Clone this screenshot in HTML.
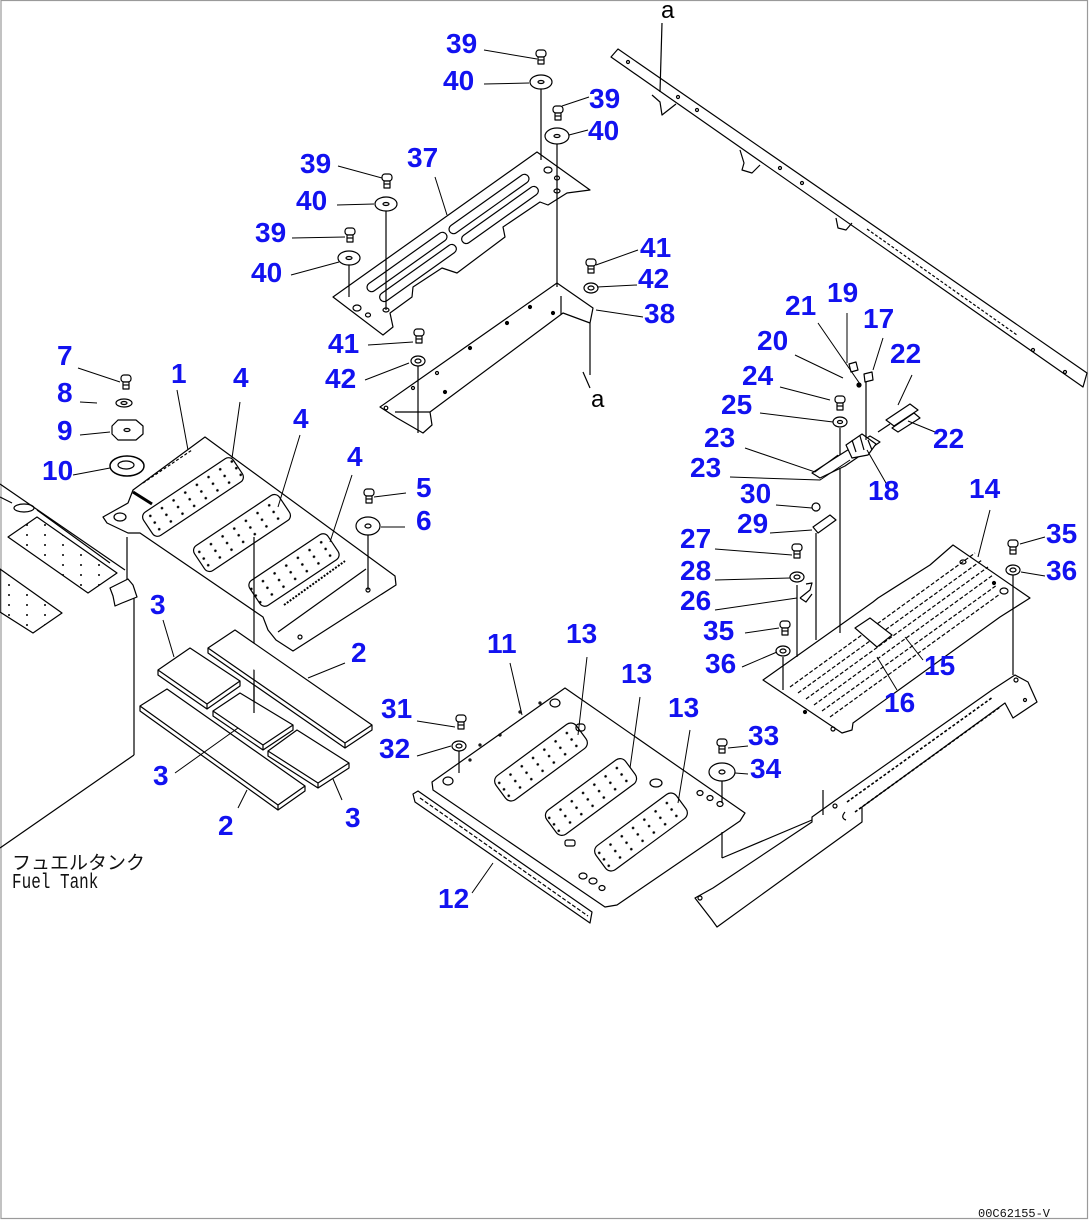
<!DOCTYPE html>
<html><head><meta charset="utf-8">
<style>
html,body{margin:0;padding:0;background:#fff;}
svg{display:block;}
.l{font-family:"Liberation Sans",sans-serif;font-weight:bold;font-size:28px;fill:#1212f0;}
.k{font-family:"Liberation Sans",sans-serif;font-size:24px;fill:#000;}
.ln{stroke:#000;stroke-width:1;fill:none;}
</style></head><body>
<svg width="1090" height="1220" viewBox="0 0 1090 1220" xmlns="http://www.w3.org/2000/svg">
<defs>
<pattern id="dots" width="14" height="8" patternUnits="userSpaceOnUse" x="3" y="-4">
<circle cx="7" cy="4" r="1.3" fill="#000"/>
</pattern>
<pattern id="dots2" width="18" height="10" patternUnits="userSpaceOnUse">
<circle cx="9" cy="5" r="1" fill="#000"/>
</pattern>
<g id="b"><rect x="-5" y="-6" width="10" height="7" rx="3" fill="#fff" stroke="#000" stroke-width="1.2"/><rect x="-3" y="1" width="6" height="7" fill="#fff" stroke="#000" stroke-width="1.2"/><line x1="-3" y1="4" x2="3" y2="4" stroke="#000"/></g>
<g id="n"><ellipse cx="0" cy="0" rx="7" ry="5" fill="#fff" stroke="#000" stroke-width="1.2"/><ellipse cx="0" cy="0" rx="3" ry="2" fill="none" stroke="#000"/></g>
</defs>
<rect x="1" y="0.5" width="1086.5" height="1218" fill="none" stroke="#9a9a9a" stroke-width="1.2"/>
<g fill="none" stroke="#000" stroke-width="1.2" stroke-linejoin="round">
<polygon points="611,57 618,49 1087,373 1083,387"/>
<line x1="867" y1="229" x2="1017" y2="335" stroke-dasharray="3,2"/>
<path d="M652,95 L660,102 L662,115 L676,104"/>
<path d="M740,150 L744,163 L742,170 L752,173 L760,165"/>
<path d="M836,218 L838,228 L846,230 L852,223"/>
<circle cx="628" cy="62" r="1.5"/><circle cx="678" cy="97" r="1.5"/><circle cx="697" cy="110" r="1.5"/><circle cx="780" cy="168" r="1.5"/><circle cx="802" cy="183" r="1.5"/><circle cx="1033" cy="350" r="1.5"/><circle cx="1065" cy="372" r="1.5"/>
<line x1="662" y1="23" x2="660" y2="92"/>
<polygon points="333,297 537,152 590,190 567,193 548,205 540,202 503,227 505,237 457,273 442,268 413,287 412,297 390,313 393,327 383,335"/>
<g transform="translate(489,204) rotate(-35.4)"><rect x="-48" y="-4.5" width="96" height="9" rx="4.5"/></g>
<g transform="translate(500,215) rotate(-35.4)"><rect x="-46" y="-4.5" width="92" height="9" rx="4.5"/></g>
<g transform="translate(407,262) rotate(-35.4)"><rect x="-48" y="-4.5" width="96" height="9" rx="4.5"/></g>
<g transform="translate(418,273) rotate(-35.4)"><rect x="-46" y="-4.5" width="92" height="9" rx="4.5"/></g>
<ellipse cx="357" cy="308" rx="4" ry="3"/><ellipse cx="368" cy="315" rx="2.5" ry="2"/><ellipse cx="386" cy="310" rx="3" ry="2"/><ellipse cx="548" cy="170" rx="4" ry="3"/><ellipse cx="557" cy="178" rx="2.5" ry="2"/><ellipse cx="557" cy="191" rx="3" ry="2"/>
<polygon points="380,407 557,283 593,308 590,323 563,313 430,412 432,425 423,433 397,418"/>
<line x1="561" y1="296" x2="561" y2="314"/>
<line x1="395" y1="412" x2="430" y2="412"/>
<circle cx="530" cy="307" r="1.5" fill="#000"/><circle cx="507" cy="323" r="1.5" fill="#000"/><circle cx="470" cy="348" r="1.5" fill="#000"/><circle cx="437" cy="373" r="1.5"/><circle cx="445" cy="392" r="1.5" fill="#000"/><circle cx="413" cy="388" r="1.5"/><circle cx="386" cy="408" r="1.8"/><circle cx="553" cy="313" r="1.5" fill="#000"/>
<line x1="590" y1="323" x2="590" y2="375"/>
<line x1="583" y1="372" x2="590" y2="388"/>
<line x1="541" y1="88" x2="541" y2="160"/>
<line x1="557" y1="143" x2="557" y2="287"/>
<line x1="386" y1="210" x2="386" y2="310"/>
<line x1="349" y1="263" x2="349" y2="297"/>
<line x1="418" y1="365" x2="418" y2="433"/>
<use href="#b" x="541" y="56"/>
<ellipse cx="541" cy="82" rx="11" ry="7" fill="#fff"/><ellipse cx="541" cy="82" rx="3" ry="1.5"/>
<use href="#b" x="558" y="112"/>
<ellipse cx="557" cy="136" rx="12" ry="8" fill="#fff"/><ellipse cx="557" cy="136" rx="3" ry="1.5"/>
<use href="#b" x="387" y="180"/>
<ellipse cx="386" cy="204" rx="11" ry="7" fill="#fff"/><ellipse cx="386" cy="204" rx="3" ry="1.5"/>
<use href="#b" x="350" y="234"/>
<ellipse cx="349" cy="258" rx="11" ry="7" fill="#fff"/><ellipse cx="349" cy="258" rx="3" ry="1.5"/>
<use href="#b" x="591" y="265"/>
<use href="#n" x="591" y="288"/>
<use href="#b" x="419" y="335"/>
<use href="#n" x="418" y="361"/>
<line x1="0" y1="484" x2="125" y2="570"/>
<path d="M0,497 L12,503 M37,510 L110,563"/>
<ellipse cx="24" cy="508" rx="10" ry="4"/>
<polygon points="8,537 37,517 117,573 88,593" fill="url(#dots2)"/>
<polygon points="0,569 62,613 33,633 0,612" fill="url(#dots2)"/>
<line x1="134" y1="593" x2="134" y2="755"/>
<line x1="134" y1="755" x2="0" y2="848"/>
<line x1="127" y1="537" x2="127" y2="593"/>
<path d="M110,588 L128,579 L133,585 L137,597 L122,603 L115,606 L113,596 Z" fill="#fff"/>
<polygon points="133,490 205,437 395,576 396,585 293,651 276,640 268,630 263,617 140,533 128,533 107,523 103,517 128,503"/>
<line x1="133" y1="492" x2="152" y2="504" stroke-width="3"/>
<line x1="143" y1="483" x2="192" y2="450" stroke-dasharray="3,2"/>
<line x1="278" y1="632" x2="366" y2="569"/>
<ellipse cx="120" cy="517" rx="6" ry="4"/>
<g transform="translate(193,497) rotate(-33.7)"><rect x="-54" y="-14" width="108" height="28" rx="6" fill="url(#dots)"/></g>
<g transform="translate(242,533) rotate(-33.7)"><rect x="-51" y="-15" width="102" height="30" rx="6" fill="url(#dots)"/></g>
<g transform="translate(294,570) rotate(-33.7)"><rect x="-47" y="-15" width="94" height="30" rx="6" fill="url(#dots)"/></g>
<line x1="284" y1="605" x2="345" y2="561" stroke-dasharray="2,1.5" stroke-width="2"/>
<circle cx="300" cy="637" r="2"/><circle cx="368" cy="590" r="2"/>
<line x1="254" y1="537" x2="254" y2="713"/>
<line x1="368" y1="535" x2="368" y2="590"/>
<use href="#b" x="126" y="381"/>
<ellipse cx="124" cy="403" rx="8" ry="4" fill="#fff"/><ellipse cx="124" cy="403" rx="3" ry="1.5"/>
<polygon points="112,426 118,420 136,420 143,426 143,434 136,440 118,440 112,434" fill="#fff"/>
<ellipse cx="127" cy="430" rx="3" ry="1.5"/>
<ellipse cx="127" cy="466" rx="17" ry="10" fill="#fff" stroke-width="1.5"/><ellipse cx="126" cy="465" rx="8" ry="4"/>
<use href="#b" x="369" y="495"/>
<ellipse cx="368" cy="526" rx="12" ry="9" fill="#fff"/><ellipse cx="368" cy="526" rx="3" ry="2"/>
<g fill="#fff">
<path d="M140,706 L167,689 L305,786 L278,805 Z M140,706 L140,711 L278,810 L305,791 L305,786 M278,805 L278,810"/>
<path d="M208,648 L235,630 L372,725 L345,743 Z M208,648 L208,653 L345,748 L372,730 L372,725 M345,743 L345,748"/>
<path d="M158,670 L190,648 L240,681 L207,704 Z M158,670 L158,675 L207,709 L240,686 L240,681 M207,704 L207,709"/>
<path d="M213,711 L240,693 L293,725 L263,745 Z M213,711 L213,716 L263,750 L293,730 L293,725 M263,745 L263,750"/>
<path d="M268,751 L297,730 L349,763 L318,783 Z M268,751 L268,756 L318,788 L349,768 L349,763 M318,783 L318,788"/>
</g>
<line x1="254" y1="680" x2="254" y2="713"/>
<polygon points="432,782 565,688 745,813 740,821 617,905 605,907 433,790"/>
<g transform="translate(541,762) rotate(-36.4)"><rect x="-50" y="-15" width="100" height="30" rx="7" fill="url(#dots)"/></g>
<g transform="translate(591,797) rotate(-36.4)"><rect x="-49" y="-15" width="98" height="30" rx="7" fill="url(#dots)"/></g>
<g transform="translate(641,832) rotate(-36.4)"><rect x="-50" y="-15" width="100" height="30" rx="7" fill="url(#dots)"/></g>
<ellipse cx="555" cy="703" rx="5" ry="4"/><ellipse cx="448" cy="781" rx="5" ry="4"/>
<rect x="576" y="724" width="9" height="7" rx="3"/><ellipse cx="656" cy="783" rx="6" ry="4"/>
<ellipse cx="700" cy="793" rx="3" ry="2.5"/><ellipse cx="710" cy="798" rx="3" ry="2.5"/><ellipse cx="720" cy="804" rx="3" ry="2.5"/>
<rect x="565" y="840" width="10" height="6" rx="2"/>
<ellipse cx="583" cy="876" rx="4" ry="3"/><ellipse cx="593" cy="881" rx="4" ry="3"/><ellipse cx="602" cy="888" rx="3" ry="2.5"/>
<circle cx="540" cy="703" r="1"/><circle cx="520" cy="712" r="1"/><circle cx="480" cy="745" r="1"/><circle cx="470" cy="760" r="1"/><circle cx="500" cy="735" r="1"/>
<polygon points="413,794 418,791 592,912 590,923 415,802"/>
<line x1="420" y1="798" x2="588" y2="916" stroke-dasharray="4,2"/>
<use href="#b" x="461" y="721"/>
<use href="#n" x="459" y="746"/>
<line x1="459" y1="751" x2="459" y2="773"/>
<use href="#b" x="722" y="745"/>
<ellipse cx="722" cy="772" rx="13" ry="9" fill="#fff"/><ellipse cx="722" cy="772" rx="3" ry="2"/>
<line x1="722" y1="781" x2="722" y2="803"/>
<line x1="722" y1="832" x2="722" y2="858"/>
<line x1="722" y1="858" x2="812" y2="820"/>
<line x1="823" y1="790" x2="823" y2="815"/>
<polygon points="695,898 713,888 812,822 812,817 840,797 992,690 1015,675 1028,682 1037,702 1013,718 1005,703 862,807 862,822 717,927 712,920"/>
<line x1="847" y1="802" x2="993" y2="697" stroke-dasharray="3,2" stroke-width="1.6"/>
<line x1="855" y1="812" x2="1000" y2="707" stroke-dasharray="3,2" stroke-width="1.6"/>
<circle cx="700" cy="898" r="2"/><circle cx="835" cy="806" r="2"/><circle cx="1016" cy="680" r="2"/><circle cx="1025" cy="700" r="1.5"/>
<path d="M845,812 Q840,818 846,820"/>
<line x1="1013" y1="597" x2="1013" y2="675"/>
<polygon points="763,680 873,602 878,598 930,565 953,545 1030,598 1000,617 853,723 852,730 842,733"/>
<line x1="790" y1="687" x2="975" y2="553" stroke-dasharray="4,2"/>
<line x1="798" y1="693" x2="982" y2="560" stroke-dasharray="4,2"/>
<line x1="806" y1="699" x2="988" y2="567" stroke-dasharray="4,2"/>
<line x1="814" y1="705" x2="993" y2="575" stroke-dasharray="4,2"/>
<line x1="822" y1="711" x2="997" y2="585" stroke-dasharray="4,2"/>
<line x1="830" y1="717" x2="1000" y2="594" stroke-dasharray="4,2"/>
<polygon points="855,628 870,618 892,635 877,647" fill="#fff"/>
<ellipse cx="963" cy="562" rx="3" ry="2"/><circle cx="994" cy="583" r="1.5" fill="#000"/><ellipse cx="1004" cy="591" rx="4" ry="3"/>
<circle cx="805" cy="712" r="1.5" fill="#000"/><circle cx="833" cy="729" r="2"/>
<line x1="783" y1="657" x2="783" y2="690"/>
<use href="#b" x="785" y="627"/>
<use href="#n" x="783" y="651"/>
<line x1="797" y1="585" x2="797" y2="657"/>
<use href="#b" x="797" y="550"/>
<use href="#n" x="797" y="577"/>
<path d="M800,598 L810,590 L812,583 L806,584 M800,598 L806,602 L812,594" fill="#fff"/>
<line x1="816" y1="533" x2="816" y2="640"/>
<polygon points="813,527 830,515 836,520 818,533" fill="#fff"/>
<ellipse cx="816" cy="507" rx="4" ry="4"/>
<line x1="840" y1="428" x2="840" y2="633"/>
<use href="#b" x="1013" y="546"/>
<use href="#n" x="1013" y="570"/>
<line x1="1013" y1="575" x2="1013" y2="597"/>
<polygon points="812,473 835,458 870,436 880,442 845,466 820,478" fill="#fff"/>
<polygon points="846,445 862,434 876,444 868,455 852,458" fill="#fff"/>
<path d="M852,440 L856,452 M860,436 L864,450 M868,440 L872,450"/>
<polygon points="886,420 910,404 918,410 894,426" fill="#fff"/>
<polygon points="892,428 914,413 920,418 898,432" fill="#fff"/>
<line x1="878" y1="432" x2="890" y2="424"/>
<use href="#b" x="840" y="402"/>
<ellipse cx="840" cy="422" rx="7" ry="5" fill="#fff"/><ellipse cx="840" cy="422" rx="2.5" ry="1.5"/>
<path d="M849,364 L856,362 L858,370 L851,372 Z"/>
<circle cx="859" cy="385" r="2" fill="#000"/>
<path d="M864,374 L872,372 L873,380 L865,382 Z"/>
<line x1="866" y1="382" x2="866" y2="440"/>
</g>
<g class="ln">
<path d="M484,50 L537,59 M484,84 L529,83 M589,97 L562,106 M588,130 L569,135 M338,166 L382,178 M337,205 L374,204 M292,238 L345,237 M291,275 L339,262 M435,177 L447,215 M638,250 L596,265 M637,285 L597,287 M643,317 L596,310 M368,345 L413,342 M365,380 L409,363"/>
<path d="M78,368 L120,382 M80,402 L97,403 M80,435 L110,432 M73,475 L110,468 M177,390 L188,450 M240,402 L232,458 M300,435 L278,507 M352,475 L330,542 M406,493 L374,497 M405,527 L381,527"/>
<path d="M163,620 L174,657 M345,663 L308,678 M175,773 L238,728 M238,808 L247,790 M342,800 L333,779"/>
<path d="M510,663 L522,715 M587,657 L578,735 M640,697 L630,768 M690,730 L678,803 M417,721 L455,727 M417,756 L451,746 M748,746 L728,748 M748,774 L735,773 M472,893 L493,863"/>
<path d="M847,313 L847,363 M818,323 L860,384 M795,355 L843,378 M883,338 L873,370 M912,375 L898,405 M935,432 L908,421 M780,387 L830,400 M760,413 L833,422 M745,448 L815,472 L838,455 M730,477 L820,480 L850,460 M890,490 L867,450"/>
<path d="M776,505 L812,508 M770,533 L812,530 M715,549 L792,555 M715,580 L790,578 M715,610 L797,598 M745,633 L779,628 M742,667 L777,652 M1045,537 L1020,544 M1045,576 L1021,572 M990,510 L978,557 M923,660 L905,637 M897,690 L877,657"/>
</g>
<g class="l">
<text x="446" y="53">39</text><text x="443" y="90">40</text><text x="589" y="108">39</text><text x="588" y="140">40</text>
<text x="407" y="167">37</text><text x="300" y="173">39</text><text x="296" y="210">40</text><text x="255" y="242">39</text><text x="251" y="282">40</text>
<text x="640" y="257">41</text><text x="638" y="288">42</text><text x="644" y="323">38</text><text x="328" y="353">41</text><text x="325" y="388">42</text>
<text x="57" y="365">7</text><text x="57" y="402">8</text><text x="57" y="440">9</text><text x="42" y="480">10</text>
<text x="171" y="383">1</text><text x="233" y="387">4</text><text x="293" y="428">4</text><text x="347" y="466">4</text>
<text x="416" y="497">5</text><text x="416" y="530">6</text>
<text x="150" y="614">3</text><text x="351" y="662">2</text><text x="153" y="785">3</text><text x="218" y="835">2</text><text x="345" y="827">3</text>
<text x="487" y="653">11</text><text x="566" y="643">13</text><text x="621" y="683">13</text><text x="668" y="717">13</text>
<text x="381" y="718">31</text><text x="379" y="758">32</text><text x="748" y="745">33</text><text x="750" y="778">34</text><text x="438" y="908">12</text>
<text x="827" y="302">19</text><text x="785" y="315">21</text><text x="863" y="328">17</text><text x="757" y="350">20</text><text x="890" y="363">22</text>
<text x="742" y="385">24</text><text x="721" y="414">25</text><text x="933" y="448">22</text><text x="704" y="447">23</text><text x="690" y="477">23</text>
<text x="868" y="500">18</text><text x="740" y="503">30</text><text x="969" y="498">14</text><text x="737" y="533">29</text>
<text x="1046" y="543">35</text><text x="680" y="548">27</text><text x="1046" y="580">36</text><text x="680" y="580">28</text><text x="680" y="610">26</text>
<text x="703" y="640">35</text><text x="705" y="673">36</text><text x="924" y="675">15</text><text x="884" y="712">16</text>
</g>
<text class="k" x="661" y="18">a</text>
<text class="k" x="591" y="407">a</text>
<text x="12" y="869" style="font-family:'Liberation Sans','Noto Sans CJK JP',sans-serif;font-size:19px;fill:#111;">フュエルタンク</text>
<text transform="translate(12,888) scale(1,1.35)" style="font-family:'Liberation Mono',monospace;font-size:16px;fill:#111;">Fuel Tank</text>
<text x="978" y="1217" style="font-family:'Liberation Mono',monospace;font-size:12px;fill:#111;">00C62155-V</text>
</svg>
</body></html>
